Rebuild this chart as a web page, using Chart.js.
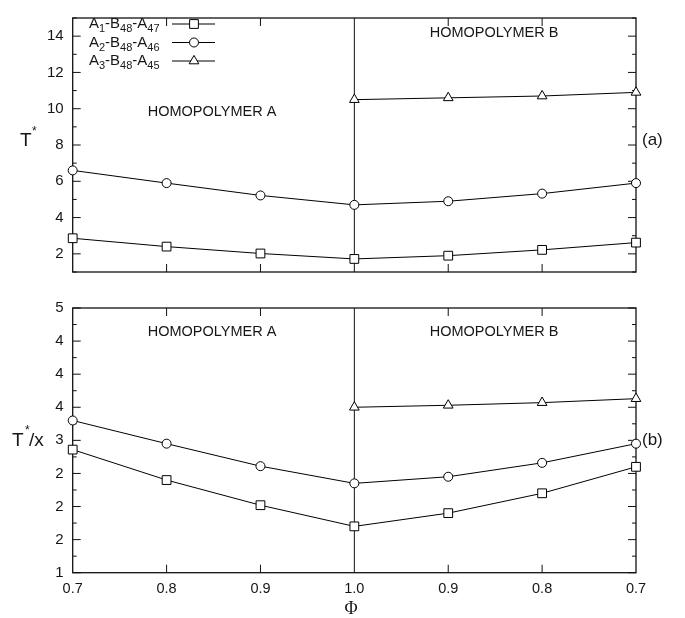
<!DOCTYPE html>
<html>
<head>
<meta charset="utf-8">
<script src="https://cdn.jsdelivr.net/npm/chart.js@4.4.1/dist/chart.umd.min.js"></script>
<style>
  body { margin: 0; background: #fff; }
  #wrap { position: relative; width: 685px; height: 618px; }
  #wrap canvas { position: absolute; left: 0; }
</style>
</head>
<body>
<div id="wrap">
  <canvas id="chartA" width="685" height="290" style="top:0px"></canvas>
  <canvas id="chartB" width="685" height="328" style="top:290px"></canvas>
</div>
<script>
// composition axis, symmetric around the pure copolymer (1.0)
const phiLabels = ['0.7', '0.8', '0.9', '1.0', '0.9', '0.8', '0.7'];
const seriesNames = ['A1-B48-A47', 'A2-B48-A46', 'A3-B48-A45'];
const pointStyles = ['rect', 'circle', 'triangle'];
const pointSizes = [6.2, 4.5, 5.6];

// (a) T*
const tA1 = [2.86, 2.40, 2.02, 1.72, 1.90, 2.22, 2.62];
const tA2 = [6.60, 5.90, 5.22, 4.70, 4.90, 5.32, 5.90];
const tA3 = [null, null, null, 10.50, 10.60, 10.70, 10.90];

// (b) T*/x
const rA1 = [2.86, 2.40, 2.02, 1.70, 1.90, 2.20, 2.60];
const rA2 = [3.30, 2.95, 2.61, 2.35, 2.45, 2.66, 2.95];
const rA3 = [null, null, null, 3.50, 3.53, 3.57, 3.63];

// tick labels
const yTicksA = [2, 4, 6, 8, 10, 12, 14];
const yTicksB = ['1', '2', '2', '2', '3', '4', '4', '4', '5'];

const FONT = "'Liberation Sans', Arial, Helvetica, sans-serif";
const INK = '#161616';
Chart.defaults.font.family = FONT;
Chart.defaults.color = INK;

function makeDatasets(values) {
    return values.map((v, i) => ({
        label: seriesNames[i],
        data: v,
        borderColor: '#000',
        borderWidth: 1,
        backgroundColor: '#fff',
        pointStyle: pointStyles[i],
        pointRadius: pointSizes[i],
        pointHoverRadius: pointSizes[i],
        pointBorderWidth: 1,
        pointBorderColor: '#000',
        pointBackgroundColor: '#fff',
        tension: 0,
        spanGaps: false,
        clip: false
    }));
}

// draws "A1-B48-A47" with the digits as subscripts
function drawFormula(ctx, text, x, y) {
    const parts = text.split(/(\d+)/).filter(s => s.length);
    for (const p of parts) {
        const sub = /^\d+$/.test(p);
        ctx.font = sub ? '11px ' + FONT : '15px ' + FONT;
        ctx.fillText(p, x, sub ? y + 5 : y);
        x += ctx.measureText(p).width;
    }
}

function drawText(ctx, text, x, y, size, align, family) {
    ctx.font = size + 'px ' + (family || FONT);
    ctx.textAlign = align || 'left';
    ctx.textBaseline = 'middle';
    ctx.fillText(text, x, y);
}

// frame, inward ticks and the divider at 1.0
const framePlugin = {
    id: 'frame',
    beforeDatasetsDraw(chart) {
        const { ctx, chartArea: a, scales: { x, y } } = chart;
        ctx.save();
        ctx.strokeStyle = '#111';
        ctx.lineWidth = 1;
        const xm = x.getPixelForValue(3);
        ctx.beginPath();
        ctx.moveTo(xm, a.top);
        ctx.lineTo(xm, a.bottom);
        ctx.stroke();

        ctx.beginPath();
        y.ticks.forEach(t => {
            const py = y.getPixelForValue(t.value);
            const len = t.label !== '' ? 8 : 4;
            ctx.moveTo(a.left, py); ctx.lineTo(a.left + len, py);
            ctx.moveTo(a.right, py); ctx.lineTo(a.right - len, py);
        });
        phiLabels.forEach((l, i) => {
            if (i === 0 || i === 3 || i === phiLabels.length - 1) return;
            const px = x.getPixelForValue(i);
            ctx.moveTo(px, a.bottom); ctx.lineTo(px, a.bottom - 8);
            ctx.moveTo(px, a.top); ctx.lineTo(px, a.top + 8);
        });
        ctx.stroke();

        ctx.lineWidth = 1.3;
        ctx.strokeRect(a.left, a.top, a.right - a.left, a.bottom - a.top);
        ctx.restore();
    }
};

function yAxis(min, max, step, cb) {
    return {
        type: 'linear',
        min: min,
        max: max,
        afterFit: axis => { axis.width = 72.7; },
        grid: { display: false, drawTicks: false },
        border: { display: false },
        ticks: {
            stepSize: step,
            autoSkip: false,
            padding: 9,
            font: { size: 15 },
            color: INK,
            callback: cb
        }
    };
}

// (a)
new Chart(document.getElementById('chartA').getContext('2d'), {
    type: 'line',
    data: { labels: phiLabels, datasets: makeDatasets([tA1, tA2, tA3]) },
    options: {
        responsive: false,
        animation: false,
        events: [],
        layout: { padding: { top: 6, right: 49, bottom: 17.3, left: 0 } },
        plugins: { legend: { display: false }, tooltip: { enabled: false } },
        scales: {
            x: { type: 'category', display: false },
            y: yAxis(1, 15, 1, v => yTicksA.includes(v) ? String(v) : '')
        }
    },
    plugins: [framePlugin, {
        id: 'notesA',
        afterDraw(chart) {
            const ctx = chart.ctx;
            ctx.save();
            ctx.fillStyle = INK;
            drawText(ctx, 'HOMOPOLYMER A', 212, 112, 14.5, 'center');
            drawText(ctx, 'HOMOPOLYMER B', 494, 33, 14.5, 'center');
            drawText(ctx, '(a)', 642, 140, 17, 'left');
            drawText(ctx, 'T', 20, 141, 19, 'left');
            drawText(ctx, '*', 32, 132, 12, 'left');

            // legend
            const rows = [24, 42.5, 61];
            seriesNames.forEach((name, i) => {
                ctx.textAlign = 'left';
                ctx.textBaseline = 'middle';
                ctx.fillStyle = INK;
                drawFormula(ctx, name, 89, rows[i]);
                ctx.strokeStyle = '#000';
                ctx.lineWidth = 1;
                ctx.beginPath();
                ctx.moveTo(172, rows[i]);
                ctx.lineTo(215, rows[i]);
                ctx.stroke();
                ctx.fillStyle = '#fff';
                Chart.helpers.drawPoint(ctx, {
                    pointStyle: pointStyles[i], radius: pointSizes[i], rotation: 0, borderWidth: 1
                }, 194, rows[i]);
            });
            ctx.restore();
        }
    }]
});

// (b)
new Chart(document.getElementById('chartB').getContext('2d'), {
    type: 'line',
    data: { labels: phiLabels, datasets: makeDatasets([rA1, rA2, rA3]) },
    options: {
        responsive: false,
        animation: false,
        events: [],
        layout: { padding: { top: 16, right: 49, bottom: 0, left: 0 } },
        plugins: { legend: { display: false }, tooltip: { enabled: false } },
        scales: {
            x: {
                type: 'category',
                afterFit: axis => { axis.height = 45.3; },
                grid: { display: false, drawTicks: false },
                border: { display: false },
                ticks: { padding: 8, autoSkip: false, maxRotation: 0, font: { size: 14.5 }, color: INK }
            },
            y: yAxis(1, 5, 0.25, (v, i) => i % 2 === 0 ? yTicksB[i / 2] : '')
        }
    },
    plugins: [framePlugin, {
        id: 'notesB',
        afterDraw(chart) {
            const ctx = chart.ctx;
            ctx.save();
            ctx.fillStyle = INK;
            drawText(ctx, 'HOMOPOLYMER A', 212, 42, 14.5, 'center');
            drawText(ctx, 'HOMOPOLYMER B', 494, 42, 14.5, 'center');
            drawText(ctx, '(b)', 642, 150, 17, 'left');
            drawText(ctx, 'T', 12, 151, 19, 'left');
            drawText(ctx, '*', 25, 141, 12, 'left');
            drawText(ctx, '/x', 29, 151, 19, 'left');
            drawText(ctx, 'Φ', 351, 319, 18, 'center', "'Liberation Serif', 'DejaVu Serif', serif");
            ctx.restore();
        }
    }]
});
</script>
</body>
</html>
